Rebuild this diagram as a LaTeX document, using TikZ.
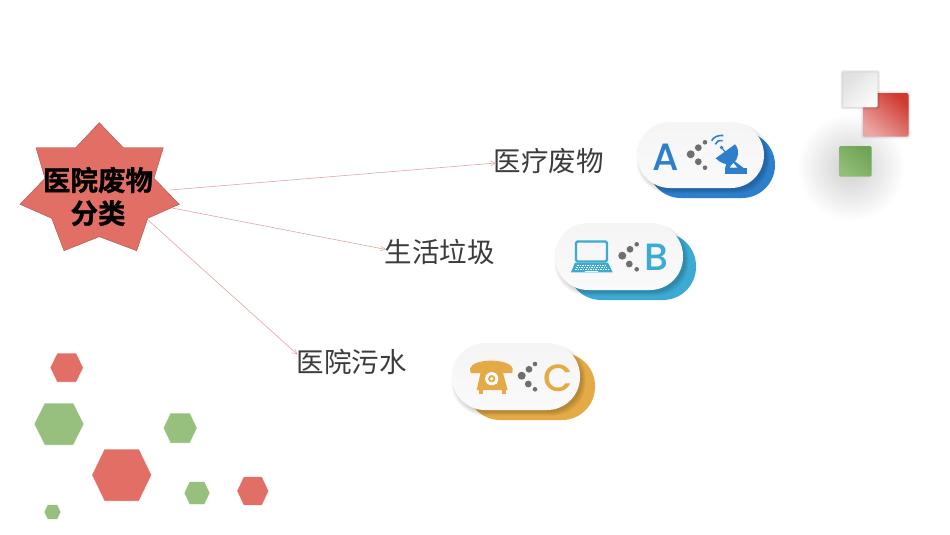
\documentclass[tikz,border=0pt]{standalone}
\usepackage{fontspec}
\setmainfont{Noto Sans CJK SC}
\newfontfamily\cjkbold[FakeBold=1.0]{Noto Sans CJK SC Bold}
\newfontfamily\latinfont{Poppins Medium}
\usetikzlibrary{arrows.meta}
\definecolor{hexred}{HTML}{E26F66}
\definecolor{hexgreen}{HTML}{97BF7D}
\definecolor{cblue}{HTML}{2E7FCB}
\definecolor{ccyan}{HTML}{3CAAD2}
\definecolor{cgold}{HTML}{E3AA45}
\definecolor{dotgray}{HTML}{6F6F6F}
\definecolor{linkpink}{HTML}{E3A5A5}
\definecolor{labeltext}{HTML}{3C3C3C}
\definecolor{redhi}{HTML}{CF3A30}
\definecolor{redlo}{HTML}{EBA5A3}
\definecolor{greenhi}{HTML}{6DA455}
\definecolor{greenlo}{HTML}{93BE78}
\tikzset{
  link/.style={draw=linkpink,line width=0.6pt,-{Straight Barb[length=5pt,width=5pt,line width=0.5pt]}},
  cat/.style={font=\fontsize{27.5}{27.5}\selectfont,text=labeltext,inner sep=0pt,anchor=west},
  letter/.style={font=\latinfont\fontsize{38}{38}\selectfont,inner sep=0pt},
  dotg/.style={fill=dotgray,draw=none},
  pill/.style={rounded corners=33pt}
}
\newcommand{\hexa}[5]{% x y rx ry colour
  \fill[#5,draw=white,line width=0.5pt] ({#1-#3},#2) -- ({#1-0.58*#3},{#2-#4}) -- ({#1+0.58*#3},{#2-#4}) -- ({#1+#3},#2) -- ({#1+0.58*#3},{#2+#4}) -- ({#1-0.58*#3},{#2+#4}) -- cycle;}
\newcommand{\capsule}[6]{% x1 y1 x2 y2 colour xoffset
  \fill[#5,pill] ({#1+#6},{#2+10}) rectangle ({#3+#6},{#4+10});
  \foreach \k in {0,1,...,6}{
    \fill[black,opacity=0.028,rounded corners={33pt}] ({#1+3-\k*0.6},{#2+5-\k*0.6}) rectangle ({#3+2+\k*0.6},{#4+2+\k*0.6});
  }
  \shade[pill,top color=white!96!black,bottom color=white!98!black] (#1,#2) rectangle (#3,#4);}
\begin{document}
\begin{tikzpicture}[x=1pt,y=-1pt]
\useasboundingbox (0,0) rectangle (950,535);
\fill[white] (0,0) rectangle (950,535);

% star
\path[fill=hexred,draw=hexred!75!black,line width=0.4pt]
 (99.3,122.7) -- (123.3,147.7) -- (163.3,147.7) -- (154,178.3) -- (179.3,204.3) -- (147.7,218.3)
 -- (136.7,250.7) -- (99.3,236.7) -- (64,250.7) -- (51.7,218.3) -- (20,204.3) -- (45,178.3)
 -- (36,147.7) -- (75.7,147.7) -- cycle;
\node[align=center,inner sep=0pt,font=\cjkbold\fontsize{27.5}{33}\selectfont,text=black] (star) at (98,196.5) {医院废物\\分类};

% links
\coordinate (s1) at (170,190);
\coordinate (s2) at (172,208);
\coordinate (s3) at (148,220);
\node[cat] (c1) at (493.5,161) {医疗废物};
\node[cat] (c2) at (384.5,252) {生活垃圾};
\node[cat] (c3) at (296.5,362) {医院污水};
\coordinate (e1) at (496,163);
\coordinate (e2) at (386,249.5);
\coordinate (e3) at (297.5,354.5);
\draw[link] (s1) -- (e1);
\draw[link] (s2) -- (e2);
\draw[link] (s3) -- (e3);

% capsule A
\capsule{637}{122}{764}{188}{cblue}{11}
\node[letter,text=cblue] (la) at (665.7,157) {A};
\fill[dotg] (690.7,154.3) circle (4);
\fill[dotg] (698.3,147.7) circle (3.4);
\fill[dotg] (705,142.3) circle (2.3);
\fill[dotg] (698.3,161.7) circle (3.4);
\fill[dotg] (705,167.7) circle (2.3);
% satellite
\fill[cblue] (715.7,158.3) -- (735,144.3) .. controls (740,150) and (739,159) .. (733,163) .. controls (727,166) and (720,163) .. (715.7,158.3) -- cycle;
\fill[cblue] (727,160) -- (733,160) -- (745,169) -- (725,169) -- cycle;
\fill[white] (731,165.5) -- (733.5,163) -- (737,167.5) -- (730,167.5) -- cycle;
\fill[cblue] (725,168.3) rectangle (747.3,174.3);
\draw[cblue,line width=1.2pt] (721.5,147.5) -- (726,153);
\fill[cblue] (721.5,147.5) circle (1.8);
\draw[cblue,line width=1.6pt] (711.7,140.7) .. controls (713.5,137) and (718,135) .. (723.3,135.5);
\draw[cblue,line width=1.6pt] (715.3,144.3) .. controls (716,141.5) and (719,140) .. (722.7,140.7);

% capsule B
\capsule{555}{223}{683}{290}{ccyan}{13}
\node[letter,text=ccyan] (lb) at (656.7,257.5) {B};
\fill[dotg] (622.3,255.7) circle (4);
\fill[dotg] (630,249.3) circle (3.4);
\fill[dotg] (636.7,244.3) circle (2.3);
\fill[dotg] (629.3,264) circle (3.4);
\fill[dotg] (636.7,269.3) circle (2.3);
% laptop
\draw[ccyan,line width=2.2pt,rounded corners=1.5pt] (576,241.5) rectangle (607,261.5);
\fill[ccyan] (575,262.5) -- (608,262.5) -- (612.7,272.3) -- (571,272.3) -- cycle;
\foreach \yy/\xa/\xb in {265/577/606,267/576/607,269/575/608}{
  \draw[white,line width=0.8pt,dash pattern=on 1.6pt off 0.9pt] (\xa,\yy) -- (\xb,\yy);
}
\draw[white,line width=0.7pt] (585,271) -- (598,271);

% capsule C
\capsule{452}{343}{580}{410}{cgold}{15}
\node[letter,text=cgold] (lc) at (558.3,378.5) {C};
\fill[dotg] (521.7,375.7) circle (4);
\fill[dotg] (529,369.3) circle (3.4);
\fill[dotg] (535,364) circle (2.3);
\fill[dotg] (528.3,384) circle (3.4);
\fill[dotg] (535,389.3) circle (2.3);
% telephone
\fill[cgold] (470,368.5) .. controls (473,358) and (509,358) .. (512.7,368.5) -- (512.3,373) -- (500.5,373) -- (499,368.5)
  .. controls (496,366.5) and (487,366.5) .. (484,368.5) -- (482.5,373) -- (470.7,373) -- cycle;
\fill[cgold] (485,366) -- (498.5,366) -- (503,373) -- (507.7,390) -- (476.7,390) -- (480.5,373) -- cycle;
\fill[cgold] (478.5,390) rectangle (482.5,393.5);
\fill[cgold] (501.5,390) rectangle (505.5,393.5);
\fill[white] (491.7,378.7) circle (6.6);
\fill[cgold] (491.7,378.7) circle (3.7);
\fill[white] (491.7,378.7) circle (1.8);
\fill[white] (494,381) rectangle (496.5,383.5);

% right decoration
\shade[inner color=black!19,outer color=white,shading=radial] (851,167) circle (54);
\foreach \k in {0,1,...,3}{
  \fill[black,opacity=0.035,rounded corners=2pt] ({863-\k*0.7},{93-\k*0.7}) rectangle ({908.5+\k*0.7},{136.7+\k*0.7});
}
\shade[rounded corners=2pt,bottom color=redlo,top color=redhi,shading angle=-40] (863,93) rectangle (908.5,136.7);
\foreach \k in {0,1,...,3}{
  \fill[black,opacity=0.05,rounded corners=2pt] ({842.7-\k*0.7},{72.3-\k*0.7}) rectangle ({877.7+\k*0.7},{107.3+\k*0.7});
}
\shade[rounded corners=2pt,top color=black!12,bottom color=black!2,shading angle=45] (842.7,72.3) rectangle (877.7,107.3);
\shade[rounded corners=1.5pt,bottom color=greenlo,top color=greenhi,shading angle=-40] (839,146) rectangle (871.7,176.7);

% hexagons
\hexa{66.7}{367.7}{16.7}{14.5}{hexred}
\hexa{59}{424}{25}{21}{hexgreen}
\hexa{180.2}{428}{17}{15}{hexgreen}
\hexa{121.7}{475}{30}{26}{hexred}
\hexa{197}{493}{13}{11.5}{hexgreen}
\hexa{252.8}{491}{16}{14.3}{hexred}
\hexa{52.5}{512}{8.5}{7.3}{hexgreen}
\end{tikzpicture}
\end{document}
